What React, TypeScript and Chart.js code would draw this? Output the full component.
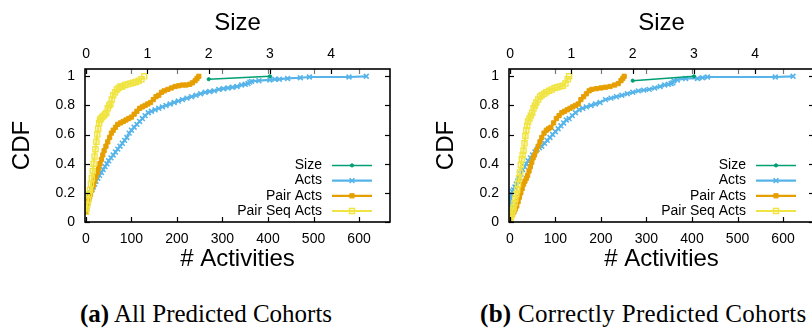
import React, { useEffect, useRef } from 'react';
import { Chart, registerables } from 'chart.js';

Chart.register(...registerables);

// ---- axis ticks ----
const activityTicks = [0, 100, 200, 300, 400, 500, 600];
const sizeTicks = [0, 1, 2, 3, 4];
const cdfTicks = [0, 0.2, 0.4, 0.6, 0.8, 1];

// ---- series names / colours ----
const seriesNames = ['Size', 'Acts', 'Pair Acts', 'Pair Seq Acts'];
const seriesColors = ['#009E73', '#56B4E9', '#E69F00', '#F0E442'];

// ---- (a) All Predicted Cohorts ----
const sizeAllX = [2, 3];
const sizeAllY = [0.98, 1.0];

const actsAllX = [0, 2, 4, 6, 8, 10, 13, 16, 19, 22, 26, 30, 34, 38, 42, 46, 50, 55, 60, 65, 70, 75, 80, 85, 90, 95, 100, 106, 112, 118, 124, 130, 137, 144, 152, 160, 168, 176, 185, 194, 203, 212, 222, 232, 242, 252, 262, 272, 282, 292, 302, 312, 322, 332, 342, 350, 356, 360, 364, 380, 404, 415, 425, 443, 471, 491, 578, 616];
const actsAllY = [0.07, 0.10, 0.13, 0.16, 0.18, 0.20, 0.22, 0.24, 0.26, 0.28, 0.30, 0.32, 0.34, 0.36, 0.38, 0.40, 0.42, 0.44, 0.46, 0.48, 0.50, 0.52, 0.54, 0.56, 0.58, 0.61, 0.63, 0.65, 0.67, 0.69, 0.71, 0.73, 0.75, 0.76, 0.77, 0.78, 0.79, 0.80, 0.81, 0.82, 0.83, 0.84, 0.85, 0.86, 0.87, 0.88, 0.89, 0.895, 0.90, 0.91, 0.915, 0.92, 0.925, 0.93, 0.94, 0.945, 0.95, 0.96, 0.965, 0.97, 0.975, 0.98, 0.98, 0.985, 0.99, 0.995, 0.995, 1.0];

const pairAllX = [0, 2, 4, 6, 8, 10, 13, 16, 19, 22, 25, 28, 31, 34, 37, 40, 44, 48, 52, 56, 60, 65, 70, 76, 82, 88, 94, 100, 106, 112, 118, 124, 130, 136, 142, 148, 154, 160, 166, 172, 180, 188, 196, 204, 212, 220, 228, 234, 240, 244, 248];
const pairAllY = [0.07, 0.10, 0.13, 0.15, 0.17, 0.19, 0.22, 0.25, 0.28, 0.31, 0.34, 0.37, 0.40, 0.43, 0.46, 0.49, 0.52, 0.55, 0.58, 0.61, 0.63, 0.65, 0.67, 0.68, 0.69, 0.70, 0.71, 0.72, 0.74, 0.76, 0.78, 0.79, 0.80, 0.81, 0.82, 0.84, 0.86, 0.87, 0.89, 0.90, 0.91, 0.92, 0.93, 0.935, 0.94, 0.94, 0.945, 0.955, 0.97, 0.985, 1.0];

const pairSeqAllX = [0, 1, 3, 5, 7, 9, 11, 13, 15, 17, 19, 21, 23, 25, 27, 29, 31, 33, 36, 39, 42, 45, 48, 51, 54, 57, 60, 64, 68, 72, 76, 80, 86, 92, 98, 104, 110, 116, 122, 128];
const pairSeqAllY = [0.07, 0.09, 0.12, 0.15, 0.19, 0.22, 0.26, 0.30, 0.35, 0.40, 0.45, 0.50, 0.55, 0.60, 0.64, 0.68, 0.70, 0.71, 0.72, 0.73, 0.74, 0.75, 0.78, 0.80, 0.81, 0.84, 0.87, 0.89, 0.91, 0.92, 0.93, 0.93, 0.94, 0.945, 0.95, 0.955, 0.96, 0.97, 0.98, 1.0];

// ---- (b) Correctly Predicted Cohorts ----
const sizeCorrectX = [2, 3];
const sizeCorrectY = [0.97, 1.0];

const actsCorrectX = [0, 1, 2, 3, 5, 8, 11, 14, 17, 20, 24, 28, 32, 36, 40, 45, 50, 55, 60, 65, 70, 76, 82, 88, 94, 100, 106, 112, 118, 124, 130, 137, 144, 152, 160, 168, 178, 188, 198, 210, 222, 234, 246, 258, 270, 282, 294, 306, 318, 330, 340, 348, 354, 358, 360, 368, 386, 412, 423, 434, 583, 622];
const actsCorrectY = [0.08, 0.12, 0.16, 0.19, 0.21, 0.22, 0.24, 0.26, 0.28, 0.30, 0.33, 0.36, 0.38, 0.40, 0.42, 0.44, 0.46, 0.48, 0.50, 0.51, 0.52, 0.54, 0.56, 0.58, 0.60, 0.62, 0.64, 0.66, 0.68, 0.70, 0.71, 0.73, 0.75, 0.77, 0.78, 0.79, 0.80, 0.81, 0.82, 0.84, 0.85, 0.86, 0.87, 0.88, 0.89, 0.90, 0.905, 0.91, 0.92, 0.93, 0.94, 0.945, 0.95, 0.955, 0.97, 0.975, 0.985, 0.985, 0.99, 0.995, 0.995, 1.0];

const pairCorrectX = [0, 3, 6, 9, 12, 15, 18, 21, 24, 27, 30, 33, 36, 39, 42, 45, 48, 51, 54, 58, 62, 66, 70, 75, 80, 85, 90, 96, 102, 108, 114, 120, 126, 132, 138, 144, 150, 156, 162, 168, 174, 180, 190, 200, 210, 220, 230, 238, 244, 248, 251];
const pairCorrectY = [0.01, 0.03, 0.05, 0.07, 0.09, 0.11, 0.14, 0.17, 0.20, 0.23, 0.26, 0.28, 0.30, 0.32, 0.35, 0.38, 0.41, 0.44, 0.46, 0.49, 0.52, 0.55, 0.58, 0.61, 0.63, 0.64, 0.65, 0.68, 0.71, 0.73, 0.75, 0.76, 0.77, 0.78, 0.79, 0.80, 0.81, 0.84, 0.86, 0.88, 0.90, 0.91, 0.915, 0.92, 0.925, 0.93, 0.94, 0.95, 0.97, 0.985, 1.0];

const pairSeqCorrectX = [0, 2, 4, 6, 8, 10, 12, 14, 16, 18, 20, 22, 24, 26, 28, 30, 32, 34, 36, 38, 40, 43, 46, 49, 52, 55, 58, 62, 66, 70, 75, 80, 86, 92, 98, 104, 110, 116, 122, 127, 130];
const pairSeqCorrectY = [0.01, 0.03, 0.05, 0.08, 0.10, 0.13, 0.16, 0.19, 0.22, 0.26, 0.30, 0.34, 0.39, 0.43, 0.46, 0.49, 0.54, 0.59, 0.63, 0.66, 0.69, 0.71, 0.73, 0.75, 0.78, 0.80, 0.82, 0.84, 0.86, 0.87, 0.88, 0.89, 0.90, 0.91, 0.92, 0.925, 0.93, 0.935, 0.95, 0.98, 1.0];

const captionA = 'All Predicted Cohorts';
const captionB = 'Correctly Predicted Cohorts';

// ---------------------------------------------------------------
const FONT = "'Liberation Sans', Arial, Helvetica, sans-serif";

function toPoints(xs: number[], ys: number[]) {
  return xs.map((x, i) => ({ x, y: ys[i] }));
}

function drawMarker(ctx: CanvasRenderingContext2D, style: string, x: number, y: number, r: number, color: string, fill: string, lw: number) {
  ctx.save();
  ctx.strokeStyle = color;
  ctx.fillStyle = fill;
  ctx.lineWidth = lw;
  ctx.beginPath();
  if (style === 'rect') {
    const s = r * Math.SQRT1_2;
    ctx.rect(x - s, y - s, 2 * s, 2 * s);
    ctx.fill();
    ctx.stroke();
  } else if (style === 'crossRot') {
    const s = r * Math.SQRT1_2;
    ctx.moveTo(x - s, y - s);
    ctx.lineTo(x + s, y + s);
    ctx.moveTo(x - s, y + s);
    ctx.lineTo(x + s, y - s);
    ctx.stroke();
  } else {
    ctx.arc(x, y, r, 0, Math.PI * 2);
    ctx.fill();
    ctx.stroke();
  }
  ctx.restore();
}

const framePlugin = {
  id: 'gnuFrame',
  afterDatasetsDraw(chart: any) {
    const { ctx, chartArea: a, scales } = chart;
    ctx.save();
    const L = 5;
    const line = (x1: number, y1: number, x2: number, y2: number, c: string) => {
      ctx.strokeStyle = c;
      ctx.beginPath();
      ctx.moveTo(x1, y1);
      ctx.lineTo(x2, y2);
      ctx.stroke();
    };
    ctx.lineWidth = 1.2;
    activityTicks.forEach((v) => {
      const px = Math.round(scales.x.getPixelForValue(v)) + 0.5;
      line(px, a.bottom, px, a.bottom - L, '#000');
      line(px, a.top, px, a.top + L, '#777');
    });
    sizeTicks.forEach((v) => {
      const px = Math.round(scales.x2.getPixelForValue(v)) + 0.5;
      line(px, a.top, px, a.top + L, '#000');
    });
    cdfTicks.forEach((v) => {
      const py = Math.round(scales.y.getPixelForValue(v)) + 0.5;
      line(a.left, py, a.left + L, py, '#000');
      line(a.right, py, a.right - L, py, '#000');
    });
    ctx.lineWidth = 1.6;
    ctx.strokeStyle = '#000';
    ctx.strokeRect(a.left, a.top, a.right - a.left, a.bottom - a.top);

    // legend, gnuplot style: right-aligned text, sample line with marker
    ctx.font = `14px ${FONT}`;
    ctx.textAlign = 'right';
    ctx.textBaseline = 'middle';
    const ds = chart.data.datasets;
    seriesNames.forEach((name, i) => {
      const d = ds.find((q: any) => q.label === name);
      if (!d) return;
      const y = a.bottom - 11 - (seriesNames.length - 1 - i) * 15.2;
      ctx.fillStyle = '#000';
      ctx.fillText(name, a.left + 237, y);
      ctx.strokeStyle = d.borderColor;
      ctx.lineWidth = d.borderWidth;
      ctx.beginPath();
      ctx.moveTo(a.left + 247, y);
      ctx.lineTo(a.left + 287, y);
      ctx.stroke();
      drawMarker(ctx, d.pointStyle, a.left + 267, y, d.pointRadius, d.borderColor, d.pointBackgroundColor, d.pointBorderWidth);
    });
    ctx.restore();
  },
};

type Series = { x: number[]; y: number[] };

function CdfPanel({ size, acts, pair, pairSeq, left }: { size: Series; acts: Series; pair: Series; pairSeq: Series; left: number }) {
  const ref = useRef<HTMLCanvasElement | null>(null);
  useEffect(() => {
    if (!ref.current) return;
    const fixTicks = (vals: number[]) => (scale: any) => {
      scale.ticks = vals.map((v) => ({ value: v }));
    };
    const chart = new Chart(ref.current, {
      type: 'scatter',
      data: {
        datasets: [
          {
            label: seriesNames[0],
            data: toPoints(size.x, size.y),
            xAxisID: 'x2',
            yAxisID: 'y',
            showLine: true,
            borderColor: seriesColors[0],
            backgroundColor: seriesColors[0],
            pointBackgroundColor: seriesColors[0],
            borderWidth: 1.5,
            pointStyle: 'circle',
            pointRadius: 1.6,
            pointBorderWidth: 1,
            order: 0,
          },
          {
            label: seriesNames[1],
            data: toPoints(acts.x, acts.y),
            xAxisID: 'x',
            yAxisID: 'y',
            showLine: true,
            borderColor: seriesColors[1],
            backgroundColor: seriesColors[1],
            pointBackgroundColor: seriesColors[1],
            borderWidth: 2.2,
            pointStyle: 'crossRot',
            pointRadius: 3.4,
            pointBorderWidth: 1.6,
            order: 3,
          },
          {
            label: seriesNames[2],
            data: toPoints(pair.x, pair.y),
            xAxisID: 'x',
            yAxisID: 'y',
            showLine: true,
            borderColor: seriesColors[2],
            backgroundColor: seriesColors[2],
            pointBackgroundColor: seriesColors[2],
            borderWidth: 2.2,
            pointStyle: 'rect',
            pointRadius: 3,
            pointBorderWidth: 1,
            order: 2,
          },
          {
            label: seriesNames[3],
            data: toPoints(pairSeq.x, pairSeq.y),
            xAxisID: 'x',
            yAxisID: 'y',
            showLine: true,
            borderColor: seriesColors[3],
            backgroundColor: seriesColors[3],
            pointBackgroundColor: 'rgba(255,255,255,0)',
            borderWidth: 2.2,
            pointStyle: 'rect',
            pointRadius: 3.6,
            pointBorderWidth: 1.4,
            order: 1,
          },
        ],
      },
      options: {
        responsive: false,
        devicePixelRatio: 1,
        animation: false,
        layout: { padding: { left: 0, right: 20, top: 0, bottom: 0 } },
        plugins: { legend: { display: false }, tooltip: { enabled: false } },
        scales: {
          x: {
            type: 'linear',
            position: 'bottom',
            min: -2,
            max: 668,
            afterBuildTicks: fixTicks(activityTicks),
            afterFit: (s: any) => { s.height = 58; },
            grid: { display: false, drawTicks: false },
            border: { display: false },
            ticks: { color: '#000', font: { family: FONT, size: 14 }, padding: 9, maxRotation: 0, autoSkip: false },
            title: { display: true, text: '# Activities', color: '#000', font: { family: FONT, size: 24 }, padding: { top: 0, bottom: 6 } },
          },
          x2: {
            type: 'linear',
            position: 'top',
            min: -0.02,
            max: 4.96,
            afterBuildTicks: fixTicks(sizeTicks),
            afterFit: (s: any) => { s.height = 69; },
            grid: { display: false, drawTicks: false },
            border: { display: false },
            ticks: { color: '#000', font: { family: FONT, size: 14 }, padding: 6, maxRotation: 0, autoSkip: false },
            title: { display: true, text: 'Size', color: '#000', font: { family: FONT, size: 24 }, padding: { top: 9, bottom: 0 } },
          },
          y: {
            type: 'linear',
            position: 'left',
            min: 0,
            max: 1.05,
            afterBuildTicks: fixTicks(cdfTicks),
            afterFit: (s: any) => { s.width = 85; },
            grid: { display: false, drawTicks: false },
            border: { display: false },
            ticks: { color: '#000', font: { family: FONT, size: 14 }, padding: 10, autoSkip: false, callback: (v: any) => String(v) },
            title: { display: true, text: 'CDF', color: '#000', font: { family: FONT, size: 24 }, padding: { top: 8, bottom: 0 } },
          },
        },
      },
      plugins: [framePlugin],
    } as any);
    return () => chart.destroy();
  }, []);
  return (
    <canvas
      ref={ref}
      width={410}
      height={280}
      style={{ position: 'absolute', left, top: 0, width: 410, height: 280 }}
    />
  );
}

const captionStyle: React.CSSProperties = {
  position: 'absolute',
  top: 301,
  fontFamily: "'Liberation Serif', 'Times New Roman', serif",
  fontSize: 25,
  lineHeight: '25px',
  whiteSpace: 'nowrap',
  color: '#000',
};

export default function App() {
  return (
    <div style={{ position: 'fixed', left: 0, top: 0, width: 812, height: 328, overflow: 'hidden', background: '#fff' }}>
      <CdfPanel
        left={0}
        size={{ x: sizeAllX, y: sizeAllY }}
        acts={{ x: actsAllX, y: actsAllY }}
        pair={{ x: pairAllX, y: pairAllY }}
        pairSeq={{ x: pairSeqAllX, y: pairSeqAllY }}
      />
      <CdfPanel
        left={424}
        size={{ x: sizeCorrectX, y: sizeCorrectY }}
        acts={{ x: actsCorrectX, y: actsCorrectY }}
        pair={{ x: pairCorrectX, y: pairCorrectY }}
        pairSeq={{ x: pairSeqCorrectX, y: pairSeqCorrectY }}
      />
      <div style={{ ...captionStyle, left: 80 }}>
        <b>(a)</b> {captionA}
      </div>
      <div style={{ ...captionStyle, left: 480, letterSpacing: '0.3px' }}>
        <b>(b)</b> {captionB}
      </div>
    </div>
  );
}
